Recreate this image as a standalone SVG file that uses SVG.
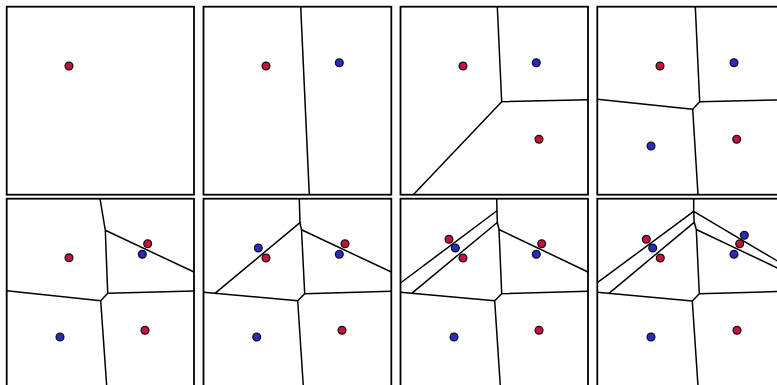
<svg xmlns="http://www.w3.org/2000/svg" width="777" height="385" viewBox="0 0 777 385">
<style>
.frame{fill:#fff;stroke:#000;stroke-width:1.8}
.edge{fill:none;stroke:#000;stroke-width:1.5;stroke-linejoin:round}
.r{fill:#c8103c;stroke:#111;stroke-width:1.3}
.b{fill:#2a2ac4;stroke:#111;stroke-width:1.3}
circle{r:3.9px}
</style>
<rect width="777" height="385" fill="#fff"/>
<g id="panel1">
<rect class="frame" x="6.7" y="6.7" width="187.3" height="188"/>
<circle class="r" cx="69" cy="66" r="3.9"/>
</g>
<g id="panel2">
<rect class="frame" x="203.5" y="6.7" width="187.8" height="188"/>
<circle class="r" cx="266" cy="66" r="3.9"/>
<circle class="b" cx="339.3" cy="62.7" r="3.9"/>
</g>
<g id="panel3">
<rect class="frame" x="400.5" y="6.7" width="187.5" height="188"/>
<circle class="r" cx="463" cy="66" r="3.9"/>
<circle class="b" cx="536.3" cy="62.7" r="3.9"/>
<circle class="r" cx="539" cy="139.3" r="3.9"/>
</g>
<g id="panel4">
<rect class="frame" x="597.3" y="6.7" width="188" height="188"/>
<circle class="r" cx="660" cy="66" r="3.9"/>
<circle class="b" cx="734" cy="62.7" r="3.9"/>
<circle class="r" cx="736.7" cy="139.3" r="3.9"/>
<circle class="b" cx="651" cy="146" r="3.9"/>
</g>
<g id="panel5">
<rect class="frame" x="6.7" y="198.7" width="187.3" height="190"/>
<circle class="r" cx="69" cy="257.7" r="3.9"/>
<circle class="r" cx="147.7" cy="243.7" r="3.9"/>
<circle class="b" cx="142.3" cy="254.3" r="3.9"/>
<circle class="b" cx="60" cy="337" r="3.9"/>
<circle class="r" cx="145" cy="330.3" r="3.9"/>
</g>
<g id="panel6">
<rect class="frame" x="203.5" y="198.7" width="187.8" height="190"/>
<circle class="b" cx="258.3" cy="248" r="3.9"/>
<circle class="r" cx="266" cy="258" r="3.9"/>
<circle class="r" cx="345" cy="243.7" r="3.9"/>
<circle class="b" cx="339.3" cy="254.3" r="3.9"/>
<circle class="b" cx="256.7" cy="337" r="3.9"/>
<circle class="r" cx="342" cy="330.3" r="3.9"/>
</g>
<g id="panel7">
<rect class="frame" x="400.5" y="198.7" width="187.5" height="190"/>
<circle class="r" cx="449" cy="239.3" r="3.9"/>
<circle class="b" cx="455.3" cy="248" r="3.9"/>
<circle class="r" cx="463" cy="258" r="3.9"/>
<circle class="r" cx="541.7" cy="243.7" r="3.9"/>
<circle class="b" cx="536.3" cy="254.3" r="3.9"/>
<circle class="b" cx="454" cy="337" r="3.9"/>
<circle class="r" cx="539" cy="330.3" r="3.9"/>
</g>
<g id="panel8">
<rect class="frame" x="597.3" y="198.7" width="188" height="190"/>
<circle class="r" cx="646.3" cy="239.3" r="3.9"/>
<circle class="b" cx="652.7" cy="248" r="3.9"/>
<circle class="r" cx="660.3" cy="258" r="3.9"/>
<circle class="b" cx="744.3" cy="235.3" r="3.9"/>
<circle class="r" cx="739.7" cy="243.7" r="3.9"/>
<circle class="b" cx="734" cy="254.3" r="3.9"/>
<circle class="b" cx="651" cy="337" r="3.9"/>
<circle class="r" cx="737" cy="330.3" r="3.9"/>
</g>
<g id="connectors">
<path class="edge" d="M300.7 6.7L309.3 194.7"/>
<path class="edge" d="M497.3 6.7L501.7 101.7L588 99.7M501.7 101.7L413.3 194.7"/>
<path class="edge" d="M695.3 6.7L699.7 101.7L785 99.8M597.3 99.3L692.7 109.3L699.7 101.7M692.7 109.3L698 194.7"/>
<path class="edge" d="M100 198.7L105.3 230.3L194 272M105.3 230.3L107.7 293.3L194 291M107.7 293.3L100.7 300.7L6.7 290.7M100.7 300.7L106.7 386"/>
<path class="edge" d="M299.3 198.7L300 222.7L215 293.3M300 222.7L301.5 229.8L391.3 272M301.5 229.8L304.7 293.7L391.3 291.3M304.7 293.7L297.7 300.7L203.5 292.3M297.7 300.7L303.3 386"/>
<path class="edge" d="M496.7 198.7L497.3 222.5L499 229.5L588 272M496.6 211L400.5 283M497.3 222.5L412.3 292.8M499 229.5L501.7 293.7L588 291.3M501.7 293.7L494.7 300.7L400.5 292.3M494.7 300.7L500.3 386"/>
<path class="edge" d="M693.7 198.7L693.7 211.3L694.2 222.3L696.3 229.5L785 271.6M693.7 211.3L597.3 282.7M693.7 211.3L785 265.5M694.2 222.3L609 293.3M696.3 229.5L699.3 293.7L785 291.3M699.3 293.7L692.3 301L597.3 292.3M692.3 301L698 386"/>
</g>
</svg>
